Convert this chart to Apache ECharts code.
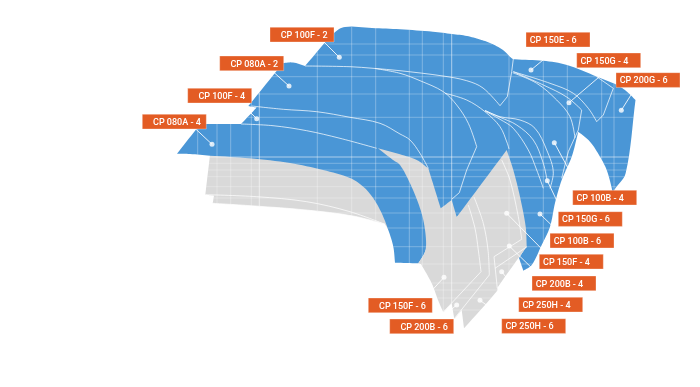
<!DOCTYPE html>
<html><head><meta charset="utf-8">
<style>html,body{margin:0;padding:0;background:#fff}#c{width:700px;height:387px}</style>
<script src="https://cdn.jsdelivr.net/npm/echarts@6/dist/echarts.min.js"></script>
</head><body><div id="c"></div>
<script>
// Envelopes, in axis units (x, y)
const blueEnvelope = [[177,153.7],[200.3,124],[241,124],[256.7,107.5],[248.3,106],[283,63],[293,62.5],[305,66],[334,33],[345,27],[372,28],[400,29.3],[433,31.7],[452,34],[467,36],[480,39.5],[490,43],[503,50],[511.7,58.3],[515,59.3],[543,60.7],[567,65],[597,76.7],[617,85],[627,91.7],[635.5,100],[625.7,173],[614.3,190],[612.5,195],[611.7,188],[606.7,170],[600,156.7],[590,141.7],[578.3,131.7],[571.7,156.7],[561.7,180],[555,203],[550,226.7],[541.7,245],[531.7,265],[523.3,270.7],[519,258],[526,247],[500,200],[456,217],[440,209],[425,252],[418.3,263.3],[395,262.7],[393.3,246.7],[388.3,230],[381.7,213.3],[373.3,198.3],[363.3,186.7],[350,178],[323,170],[290,163],[250,158.3],[210,155.7],[190,154]];
const grayLeftEnvelope = [[210,155],[205.3,194.7],[214,195.7],[212.7,203.3],[255,206],[306,210],[353,216],[385,224.3],[395,240],[395,160],[330,160]];
const grayMainEnvelope = [[378,148.3],[400,154.3],[416.7,160],[428.3,168.3],[435,190],[440.7,208.3],[451.7,200],[456.7,217],[506.7,150],[513.3,170],[520,196.7],[525.7,226.7],[526.7,246.7],[497.7,287.3],[497,291],[464,328.3],[461.7,310],[454.3,319],[451.7,303.3],[443.3,312.3],[438,300],[431.7,283.3],[421,264],[418.3,263.3],[425,251.7],[426,240],[423.3,220],[418.3,203.3],[410,183.3],[400,165],[393,160]];
// Performance curves
const curves080A4 = [[241,124],[273,125.7],[306.7,130.7],[340,138.3],[376.7,148.3]];
const curves100F4 = [[251.7,106],[283.3,109.3],[316.7,111.7],[350,117.3],[380,123.3],[400,134],[410,140],[420,153.3],[428.3,168.3]];
const curves100F2 = [[305,66],[350,66.7],[373,68.3],[400,70.7],[443,76],[466.7,80.7],[483,88],[500,105.7]];
const kink100F2 = [[500,105.7],[507.3,96.7],[511.7,71.7],[513.3,59]];
const curves080A2a = [[375,68.5],[400,73.3],[420,80.7],[443.3,91.7],[456.7,105],[468.3,123.3],[476.7,146.7]];
const kink080A2 = [[476.7,146.7],[466.7,170],[459.3,192.7],[451.7,199.3]];
const curves150a = [[445,93.3],[466.7,100],[485,111.7],[500,126.7],[507.3,143.3],[509,149]];
const curveM1 = [[485,110.5],[500,116.7],[520,120],[535,128.3],[546.7,150],[553.3,173.3],[550,188.3]];
const curveM2 = [[485,110.5],[500,117.3],[516.7,125],[533.3,140],[543.3,163.3],[547.3,181.7]];
const curveM3 = [[485,111],[500,119.3],[513.3,128.3],[528.3,150],[536.7,170],[543.3,188.3]];
const curveU1 = [[513.3,71.7],[550,83.3],[573.3,93.3],[588.3,108.3],[596.7,121.7]];
const kinkU1 = [[596.7,121.7],[603.3,115],[613.3,88.3],[596.7,76.7]];
const curveU2 = [[513.3,71.7],[543.3,85],[566.7,97],[581.7,110]];
const kinkU2 = [[581.7,110],[578.3,130],[568.3,151.7],[561.7,178.3]];
const curveU3 = [[512.7,72.7],[536.7,83.3],[556.7,100],[570,116.7],[575,138]];
const grayLeftUpper = [[205.3,194.7],[256.7,196.7],[306.7,201.7],[350,211.7],[385,224.3]];
const grayLeftLower = [[212.7,203.3],[255,206],[306,210],[353,216],[385,224.3]];
const grayA = [[468.3,205],[475,228.3],[478.3,250],[481,271.7]];
const grayAEnd = [[481,271.7],[443.3,312]];
const grayB = [[474,197],[483.3,223.3],[488,250],[489.3,275]];
const grayBEnd = [[489.3,275],[454,319]];
const grayE = [[501.7,160],[510,180],[518.3,216.7],[521.7,239.3]];
const grayEEnd = [[521.7,239.3],[494,256.7],[497.3,288.3]];
const grayF = [[527,246.7],[495,268.3]];
const smoothCurves = [curves080A4,curves100F4,curves100F2,curves080A2a,curves150a,curveM1,curveM2,curveM3,curveU1,curveU2,curveU3,grayA,grayB,grayE,grayLeftUpper,grayLeftLower];
const straightCurves = [kink100F2,kink080A2,kinkU1,kinkU2,grayAEnd,grayBEnd,grayEEnd,grayF];
// Log-style reference lines
const gridX = [197.7,217,230.7,251.3,317.3,351.7,375.7,409.3,422.3,443.3,509,543.3,567.3,601.7,614];
const gridXMajor = [259.3,451.7];
const gridY = [44,55,76.7,94,117.3,163.3,170,176.7,186.7,198,213,228,246.7,264,283,290,298,310];
const gridYMajor = [157];
// Labels: name, box left, box top, text padding, dot x, dot y, leader end x, leader end y
const labelNames = ['CP 100F - 2','CP 080A - 2','CP 100F - 4','CP 080A - 4','CP 150E - 6','CP 150G - 4','CP 200G - 6','CP 100B - 4','CP 150G - 6','CP 100B - 6','CP 150F - 4','CP 200B - 4','CP 250H - 4','CP 250H - 6','CP 150F - 6','CP 200B - 6'];
const labelLeft = [270,219.7,187.7,142.3,526,576.7,616,572.7,558.3,550,539.3,532,518.7,501.7,368.3,389.7];
const labelTop = [27.3,56,88.3,114.3,32.3,53,72.7,190.3,211.7,233.3,254.3,276,297.3,318.7,298,319];
const labelPad = [10.7,10.7,10.7,10.7,3.7,3.7,3.7,3.7,3.7,3.7,3.7,3.7,3.7,3.7,10.7,10.7];
const dotX = [339.3,289,256.7,212,531,569,621.3,554.3,547.3,540,506.7,509.3,501.7,480,444,456.7];
const dotY = [57.3,86,118.7,144.3,70,102.7,110.3,142.7,180.7,214,213.3,246,271.7,300.3,277.3,305];
const endX = [324,272,250.7,195.7,543,610,636,580,562,560,547,540,522,505,425,440];
const endY = [42,70.7,112.7,129,60,67.7,87,190.3,211.7,233.3,254.3,276,297.3,318.7,298,319];

const BOX_W = 64, BOX_H = 14.7;
const BLUE = '#4a96d6', GRAY = '#d9d9d9', ORANGE = '#e35c24';

// Draws the read outline as a curve: sharp turns stay corners, gentle ones are rounded
function outline(poly){
  const n = poly.length, steps = 8, out = [];
  const dir = (a, b) => { const d = Math.hypot(b[0]-a[0], b[1]-a[1]) || 1; return [(b[0]-a[0])/d, (b[1]-a[1])/d]; };
  const isCorner = i => {
    const u = dir(poly[(i-1+n)%n], poly[i]), v = dir(poly[i], poly[(i+1)%n]);
    return u[0]*v[0] + u[1]*v[1] < Math.cos(35*Math.PI/180);
  };
  for (let i = 0; i < n; i++){
    const p0 = poly[i], p1 = poly[(i+1)%n], len = Math.hypot(p1[0]-p0[0], p1[1]-p0[1]);
    const tan = (k, fallback) => isCorner(k) ? fallback : dir(poly[(k-1+n)%n], poly[(k+1)%n]);
    const s = dir(p0, p1), t0 = tan(i, s), t1 = tan((i+1)%n, s);
    for (let j = 0; j < steps; j++){
      const t = j/steps, t2 = t*t, t3 = t2*t;
      const h = [2*t3-3*t2+1, t3-2*t2+t, -2*t3+3*t2, t3-t2];
      out.push([h[0]*p0[0]+h[1]*t0[0]*len+h[2]*p1[0]+h[3]*t1[0]*len, h[0]*p0[1]+h[1]*t0[1]*len+h[2]*p1[1]+h[3]*t1[1]*len]);
    }
  }
  return out;
}
const outlines = [blueEnvelope, grayLeftEnvelope, grayMainEnvelope].map(outline);
function spans(poly, axis, v){
  const a = axis, b = 1 - axis, hits = [];
  for (let i = 0; i < poly.length; i++){
    const p = poly[i], q = poly[(i + 1) % poly.length];
    if ((p[a] <= v) !== (q[a] <= v)) hits.push(p[b] + (v - p[a]) / (q[a] - p[a]) * (q[b] - p[b]));
  }
  hits.sort((m, n) => m - n);
  const out = [];
  for (let i = 0; i + 1 < hits.length; i += 2) out.push([hits[i], hits[i + 1]]);
  return out;
}
function clipped(axis, v){
  const all = outlines.flatMap(p => spans(p, axis, v)).sort((m, n) => m[0] - n[0]);
  const merged = [];
  all.forEach(s => {
    const l = merged[merged.length - 1];
    if (l && s[0] <= l[1]) l[1] = Math.max(l[1], s[1]); else merged.push(s.slice());
  });
  return merged;
}
function polygonSeries(points, color, z){
  return {type:'custom', coordinateSystem:'cartesian2d', silent:true, z, data:[[0]], clip:false,
    renderItem:(p, api) => ({type:'polygon', shape:{points:points.map(c => api.coord(c))}, style:{fill:color}})};
}
function gridSeries(axis, values, opacity, z){
  return {type:'custom', coordinateSystem:'cartesian2d', silent:true, z, data:values.map(v => [v]), clip:false,
    renderItem:(p, api) => {
      const v = api.value(0);
      return {type:'group', children:clipped(axis, v).map(s => {
        const a = axis === 0 ? api.coord([v, s[0]]) : api.coord([s[0], v]);
        const b = axis === 0 ? api.coord([v, s[1]]) : api.coord([s[1], v]);
        return {type:'line', shape:{x1:a[0], y1:a[1], x2:b[0], y2:b[1]}, style:{stroke:'rgba(255,255,255,' + opacity + ')', lineWidth:1}};
      })};
    }};
}
function lineSeries(data, smooth, width, opacity, z){
  return {type:'line', data, smooth, symbol:'none', silent:true, z, clip:false, lineStyle:{color:'#fff', width, opacity}};
}
const series = [
  polygonSeries(outlines[1], GRAY, 1),
  polygonSeries(outlines[0], BLUE, 2),
  polygonSeries(outlines[2], GRAY, 3),
  gridSeries(0, gridX, 0.3, 4),
  gridSeries(1, gridY, 0.28, 4),
  gridSeries(0, gridXMajor, 0.55, 4),
  gridSeries(1, gridYMajor, 0.55, 4)
];
smoothCurves.forEach(c => series.push(lineSeries(c, 0.35, 1, 0.72, 5)));
straightCurves.forEach(c => series.push(lineSeries(c, false, 1, 0.72, 5)));
labelNames.forEach((n, i) => series.push(lineSeries([[dotX[i], dotY[i]], [endX[i], endY[i]]], false, 1, 0.85, 6)));
series.push({type:'scatter', symbolSize:5, silent:true, z:7, itemStyle:{color:'#fff'}, data:dotX.map((x, i) => [x, dotY[i]])});
series.push({type:'custom', coordinateSystem:'cartesian2d', silent:true, z:8, clip:false,
  data:labelNames.map((n, i) => [labelLeft[i], labelTop[i], labelPad[i], n]),
  renderItem:(p, api) => {
    const o = api.coord([api.value(0), api.value(1)]);
    return {type:'group', children:[
      {type:'rect', shape:{x:o[0], y:o[1], width:BOX_W, height:BOX_H}, style:{fill:ORANGE, stroke:'rgba(255,255,255,0.3)', lineWidth:1}},
      {type:'text', x:o[0] + api.value(2), y:o[1] + BOX_H / 2 + 1, style:{text:labelNames[p.dataIndex], fill:'#fff', font:'500 9px Roboto', textAlign:'left', textVerticalAlign:'middle'}}
    ]};
  }});
const chart = echarts.init(document.getElementById('c'), null, {renderer:'canvas'});
chart.setOption({
  animation:false, backgroundColor:'#fff',
  grid:{left:0, right:0, top:0, bottom:0},
  xAxis:{type:'value', min:0, max:700, show:false},
  yAxis:{type:'value', min:0, max:387, inverse:true, show:false},
  series
});
</script></body></html>
